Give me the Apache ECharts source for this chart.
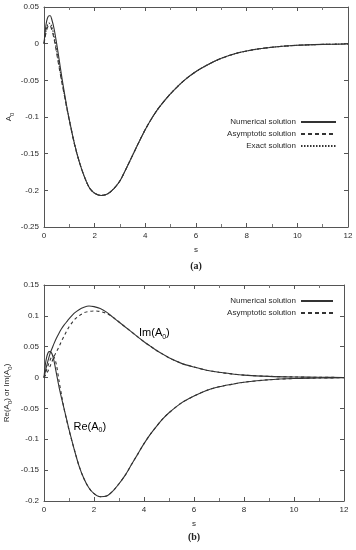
<!DOCTYPE html>
<html><head><meta charset="utf-8">
<script src="https://cdn.jsdelivr.net/npm/echarts@6/dist/echarts.min.js"></script>
<style>html,body{margin:0;padding:0;background:#fff}#c{width:356px;height:550px}</style>
</head><body><div id="c"></div>
<script>
// ---- Plot (a) data ----
const sA = [0,0.05,0.1,0.15,0.2,0.25,0.3,0.4,0.5,0.6,0.7,0.8,0.9,1.0,1.2,1.4,1.6,1.8,2.0,2.25,2.5,2.75,3.0,3.25,3.5,3.75,4.0,4.25,4.5,4.75,5.0,5.5,6.0,6.5,7.0,7.5,8.0,8.5,9.0,10.0,11.0,12.0];
const numA = [0,0.018,0.03,0.036,0.038,0.038,0.034,0.02,0.0,-0.022,-0.045,-0.066,-0.086,-0.104,-0.136,-0.162,-0.182,-0.197,-0.204,-0.207,-0.205,-0.198,-0.187,-0.170,-0.152,-0.134,-0.117,-0.102,-0.089,-0.078,-0.068,-0.051,-0.038,-0.028,-0.020,-0.014,-0.010,-0.007,-0.0048,-0.0022,-0.001,-0.0004];
const asymA = [0,0.01,0.018,0.023,0.025,0.024,0.02,0.006,-0.013,-0.033,-0.052,-0.07,-0.088,-0.105,-0.137,-0.162,-0.182,-0.197,-0.204,-0.207,-0.205,-0.198,-0.187,-0.170,-0.152,-0.134,-0.117,-0.102,-0.089,-0.078,-0.068,-0.051,-0.038,-0.028,-0.020,-0.014,-0.010,-0.007,-0.0048,-0.0022,-0.001,-0.0004];
const exactA = [0,0.012,0.021,0.026,0.028,0.027,0.024,0.01,-0.009,-0.03,-0.05,-0.069,-0.087,-0.104,-0.136,-0.162,-0.182,-0.197,-0.204,-0.207,-0.205,-0.198,-0.187,-0.170,-0.152,-0.134,-0.117,-0.102,-0.089,-0.078,-0.068,-0.051,-0.038,-0.028,-0.020,-0.014,-0.010,-0.007,-0.0048,-0.0022,-0.001,-0.0004];
const yTicksA = {min:-0.25, max:0.05, interval:0.05};

// ---- Plot (b) data ----
const sB = [0,0.05,0.1,0.15,0.2,0.25,0.3,0.35,0.4,0.5,0.6,0.7,0.8,0.9,1.0,1.2,1.4,1.6,1.8,2.0,2.25,2.5,2.75,3.0,3.25,3.5,3.75,4.0,4.25,4.5,4.75,5.0,5.5,6.0,6.5,7.0,7.5,8.0,9.0,10.0,11.0,12.0];
const reNum = [0,0.02,0.032,0.039,0.042,0.042,0.04,0.035,0.027,0.006,-0.015,-0.033,-0.05,-0.067,-0.084,-0.115,-0.143,-0.164,-0.179,-0.188,-0.193,-0.192,-0.184,-0.172,-0.158,-0.141,-0.124,-0.107,-0.092,-0.079,-0.067,-0.057,-0.041,-0.030,-0.021,-0.015,-0.011,-0.0075,-0.0035,-0.0016,-0.0007,-0.0003];
const reAsym = [0,0.006,0.012,0.018,0.024,0.029,0.033,0.035,0.034,0.02,-0.005,-0.028,-0.05,-0.068,-0.085,-0.115,-0.143,-0.164,-0.179,-0.188,-0.193,-0.192,-0.184,-0.172,-0.158,-0.141,-0.124,-0.107,-0.092,-0.079,-0.067,-0.057,-0.041,-0.030,-0.021,-0.015,-0.011,-0.0075,-0.0035,-0.0016,-0.0007,-0.0003];
const imNum = [0,0.009,0.018,0.026,0.033,0.04,0.045,0.05,0.055,0.064,0.072,0.079,0.085,0.09,0.095,0.104,0.11,0.114,0.116,0.115,0.112,0.106,0.098,0.090,0.082,0.074,0.066,0.058,0.051,0.044,0.038,0.032,0.023,0.017,0.012,0.0085,0.006,0.004,0.002,0.001,0.0004,0.0002];
const imAsym = [0,0.003,0.006,0.01,0.014,0.019,0.024,0.029,0.034,0.042,0.05,0.059,0.067,0.075,0.082,0.093,0.1,0.105,0.107,0.108,0.107,0.104,0.098,0.090,0.082,0.074,0.066,0.058,0.051,0.044,0.038,0.032,0.023,0.017,0.012,0.0085,0.006,0.004,0.002,0.001,0.0004,0.0002];
const yTicksB = {min:-0.2, max:0.15, interval:0.05};

const xTicks = {min:0, max:12, interval:2};
const legendNames = ['Numerical solution','Asymptotic solution','Exact solution'];

const FONT = 'Liberation Sans';
const INK = '#2a2a2a';
const pairs = (xs, ys) => xs.map((x,i)=>[x, ys[i]]);

function xAx(grid, pos, withLabels){
  return {type:'value', gridIndex:grid, position:pos, min:xTicks.min, max:xTicks.max, interval:xTicks.interval,
    name: withLabels ? 's' : '', nameLocation:'middle', nameGap:19, nameMoveOverlap:false,
    nameTextStyle:{fontFamily:FONT, fontSize:8, color:INK},
    axisLine:{show:true, onZero:false, lineStyle:{color:'#555', width:1}},
    axisTick:{show:true, inside:true, length:4, lineStyle:{color:'#555'}},
    minorTick:{show:true, splitNumber:2, length:3, lineStyle:{color:'#777'}},
    axisLabel:{show:withLabels, margin:5, fontFamily:FONT, fontSize:8, color:INK},
    splitLine:{show:false}};
}
function yAx(grid, pos, ticks, withLabels, name, gap){
  return {type:'value', gridIndex:grid, position:pos, min:ticks.min, max:ticks.max, interval:ticks.interval,
    name: name || '', nameLocation:'middle', nameGap:gap||30, nameRotate:90, nameMoveOverlap:false,
    nameTextStyle:{fontFamily:FONT, fontSize:8, color:INK,
      rich:{a:{fontFamily:FONT, fontSize:8, color:INK}, s:{fontFamily:FONT, fontSize:6, color:INK, padding:[6,0,0,0]}}},
    axisLine:{show:true, onZero:false, lineStyle:{color:'#555', width:1}},
    axisTick:{show:true, inside:true, length:4, lineStyle:{color:'#555'}},
    axisLabel:{show:withLabels, margin:5, fontFamily:FONT, fontSize:8, color:INK},
    splitLine:{show:false}};
}
function line(name, xi, yi, xs, ys, type){
  return {name, type:'line', xAxisIndex:xi, yAxisIndex:yi, data:pairs(xs,ys), symbol:'none', smooth:0.3,
    lineStyle:{color:'#333', width:1.1, type:type}, itemStyle:{color:'#333'}, silent:true, animation:false, z:3};
}
const legendCommon = {orient:'vertical', align:'right', itemHeight:8, itemGap:4, selectedMode:false,
  itemStyle:{opacity:0}, textStyle:{fontFamily:FONT, fontSize:8, color:INK}};

const chart = echarts.init(document.getElementById('c'), null, {renderer:'canvas'});
const option = {
  animation:false,
  backgroundColor:'#fff',
  grid:[{left:44, right:8, top:7, height:220, outerBoundsMode:'none', containLabel:false},
        {left:44, right:12, top:285, height:216, outerBoundsMode:'none', containLabel:false}],
  xAxis:[xAx(0,'bottom',true), xAx(0,'top',false), xAx(1,'bottom',true), xAx(1,'top',false)],
  yAxis:[yAx(0,'left',yTicksA,true,'{a|A}{s|0}',29), yAx(0,'right',yTicksA,false),
         yAx(1,'left',yTicksB,true,'{a|Re(A}{s|0}{a|) or Im(A}{s|0}{a|)}',31), yAx(1,'right',yTicksB,false)],
  legend:[
    Object.assign({data:legendNames, right:14, top:113, itemWidth:35}, legendCommon),
    Object.assign({data:legendNames.slice(0,2), right:17, top:292, itemWidth:32}, legendCommon)
  ],
  series:[
    line('Numerical solution',0,0,sA,numA,'solid'),
    line('Asymptotic solution',0,0,sA,asymA,[4,3]),
    line('Exact solution',0,0,sA,exactA,[1.5,1.5]),
    line('Numerical solution',2,2,sB,reNum,'solid'),
    line('Asymptotic solution',2,2,sB,reAsym,[3,3]),
    line('Numerical solution',2,2,sB,imNum,'solid'),
    line('Asymptotic solution',2,2,sB,imAsym,[3,3])
  ]
};
chart.setOption(option);

const imPos = chart.convertToPixel({gridIndex:1}, [3.8, 0.072]);
const rePos = chart.convertToPixel({gridIndex:1}, [1.18, -0.08]);
const capA = chart.convertToPixel({gridIndex:0}, [6, -0.25]);
const capB = chart.convertToPixel({gridIndex:1}, [6, -0.2]);
const rich = {a:{fontFamily:FONT, fontSize:11, color:'#222'}, s:{fontFamily:FONT, fontSize:7, color:'#222', padding:[7,0,0,0]}};
chart.setOption({graphic:[
  {type:'text', x:imPos[0], y:imPos[1], style:{text:'{a|Im(A}{s|0}{a|)}', rich, verticalAlign:'middle', align:'left'}},
  {type:'text', x:rePos[0], y:rePos[1], style:{text:'{a|Re(A}{s|0}{a|)}', rich, verticalAlign:'middle', align:'left'}},
  {type:'text', x:capA[0], y:capA[1]+39, style:{text:'(a)', fontFamily:'Liberation Serif', fontWeight:'bold', fontSize:10, fill:'#222', align:'center', verticalAlign:'middle'}},
  {type:'text', x:capB[0], y:capB[1]+36, style:{text:'(b)', fontFamily:'Liberation Serif', fontWeight:'bold', fontSize:10, fill:'#222', align:'center', verticalAlign:'middle'}}
]});
</script>
</body></html>
